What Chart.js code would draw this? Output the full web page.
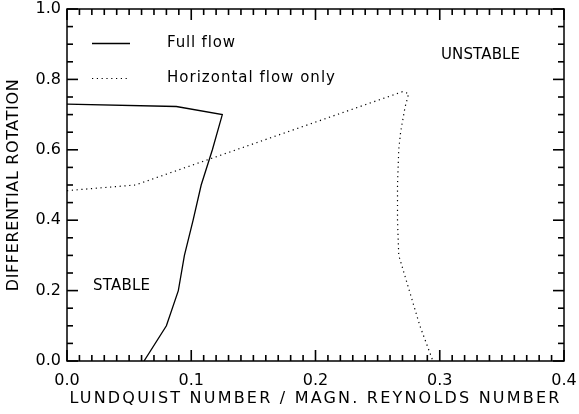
<!DOCTYPE html>
<html>
<head>
<meta charset="utf-8">
<script src="https://cdn.jsdelivr.net/npm/chart.js@4"></script>
<style>
  body { margin: 0; background: #fff; }
  canvas { display: block; }
</style>
</head>
<body>
<canvas id="myChart" width="579" height="414"></canvas>
<script>
// Dados
const fullFlowX = [0.0, 0.088, 0.125, 0.117, 0.108, 0.1015, 0.0945, 0.0896, 0.080, 0.062];
const fullFlowY = [0.73, 0.723, 0.70, 0.60, 0.50, 0.40, 0.30, 0.20, 0.10, 0.0];

const horizX = [0.0, 0.055, 0.270, 0.275, 0.272, 0.2685, 0.267, 0.266, 0.266, 0.267, 0.2755, 0.284, 0.2945];
const horizY = [0.484, 0.50, 0.765, 0.76, 0.72, 0.65, 0.60, 0.50, 0.40, 0.30, 0.20, 0.10, 0.0];

const xTicks = [0.0, 0.1, 0.2, 0.3, 0.4];
const yTicks = [0.0, 0.2, 0.4, 0.6, 0.8, 1.0];
const xMinorStep = 0.01;
const yMinorStep = 0.05;

const seriesNames = ['Full flow', 'Horizontal flow only'];
const xTitle = 'LUNDQUIST NUMBER / MAGN. REYNOLDS NUMBER';
const yTitle = 'DIFFERENTIAL ROTATION';

const FONT = '"DejaVu Sans", sans-serif';

const toPoints = (xs, ys) => xs.map((x, i) => ({ x: x, y: ys[i] }));

// texto com espaçamento para chegar na largura desejada
function spacedText(ctx, text, x, y, targetWidth) {
    ctx.letterSpacing = '0px';
    const w = ctx.measureText(text).width;
    const sp = Math.max(0, (targetWidth - w) / (text.length - 1));
    ctx.letterSpacing = sp.toFixed(2) + 'px';
    ctx.fillText(text, x, y);
    ctx.letterSpacing = '0px';
}

const idlFrame = {
    id: 'idlFrame',
    afterDraw(chart) {
        const ctx = chart.ctx;
        const a = chart.chartArea;
        const xs = chart.scales.x, ys = chart.scales.y;
        ctx.save();
        ctx.setLineDash([]);
        ctx.strokeStyle = '#000';
        ctx.fillStyle = '#000';
        ctx.lineWidth = 1.5;
        ctx.strokeRect(a.left, a.top, a.right - a.left, a.bottom - a.top);

        // marcas dos eixos (para dentro)
        const nx = Math.round((xs.max - xs.min) / xMinorStep);
        for (let i = 0; i <= nx; i++) {
            const px = xs.getPixelForValue(xs.min + i * xMinorStep);
            const len = (i % 10 === 0) ? 11 : 6;
            ctx.fillRect(px - 0.8, a.bottom - len, 1.6, len);
            ctx.fillRect(px - 0.8, a.top, 1.6, len);
        }
        const ny = Math.round((ys.max - ys.min) / yMinorStep);
        for (let i = 0; i <= ny; i++) {
            const py = ys.getPixelForValue(ys.min + i * yMinorStep);
            const len = (i % 4 === 0) ? 11 : 6;
            ctx.fillRect(a.left, py - 0.8, len, 1.6);
            ctx.fillRect(a.right - len, py - 0.8, len, 1.6);
        }

        // legenda
        ctx.lineWidth = 1.3;
        ctx.beginPath();
        ctx.moveTo(92, 43.5); ctx.lineTo(130, 43.5);
        ctx.stroke();
        ctx.lineWidth = 1.2;
        ctx.setLineDash([1.2, 3.6]);
        ctx.beginPath();
        ctx.moveTo(92, 78.5); ctx.lineTo(130, 78.5);
        ctx.stroke();
        ctx.setLineDash([]);

        ctx.textBaseline = 'middle';
        ctx.textAlign = 'left';
        ctx.font = '15px ' + FONT;
        spacedText(ctx, seriesNames[0], 167, 43, 68);
        spacedText(ctx, seriesNames[1], 167, 78, 168);
        spacedText(ctx, 'UNSTABLE', 441, 55, 79);
        spacedText(ctx, 'STABLE', 93, 286, 57);

        // títulos dos eixos
        ctx.textAlign = 'center';
        ctx.font = '16px ' + FONT;
        spacedText(ctx, xTitle, (a.left + a.right) / 2, 399, 490);
        ctx.translate(14, (a.top + a.bottom) / 2);
        ctx.rotate(-Math.PI / 2);
        spacedText(ctx, yTitle, 0, 0, 212);
        ctx.restore();
    }
};

const ctx = document.getElementById('myChart').getContext('2d');
const myChart = new Chart(ctx, {
    type: 'scatter',
    data: {
        datasets: [{
            label: seriesNames[0],
            data: toPoints(fullFlowX, fullFlowY),
            showLine: true,
            borderColor: '#000',
            borderWidth: 1.3,
            pointRadius: 0,
            fill: false,
            tension: 0
        }, {
            label: seriesNames[1],
            data: toPoints(horizX, horizY),
            showLine: true,
            borderColor: '#000',
            borderWidth: 1.2,
            borderDash: [1.2, 3.6],
            pointRadius: 0,
            fill: false,
            tension: 0
        }]
    },
    options: {
        responsive: false,
        animation: false,
        layout: { padding: { top: 9, right: 15, left: 0, bottom: 0 } },
        plugins: {
            legend: { display: false },
            tooltip: { enabled: false }
        },
        scales: {
            x: {
                type: 'linear',
                min: 0,
                max: 0.4,
                afterBuildTicks: (s) => { s.ticks = xTicks.map(v => ({ value: v })); },
                afterFit: (s) => {
                    s.height = 53;
                    s.paddingLeft = 0; s.paddingRight = 0;
                },
                grid: { display: false, drawTicks: false },
                border: { display: false },
                ticks: {
                    font: { family: FONT, size: 16 },
                    color: '#000',
                    padding: 10,
                    maxRotation: 0,
                    callback: (v) => v.toFixed(1)
                }
            },
            y: {
                type: 'linear',
                min: 0,
                max: 1,
                afterBuildTicks: (s) => { s.ticks = yTicks.map(v => ({ value: v })); },
                afterFit: (s) => {
                    s.width = 67;
                    s.paddingTop = 0; s.paddingBottom = 0;
                },
                grid: { display: false, drawTicks: false },
                border: { display: false },
                ticks: {
                    font: { family: FONT, size: 16 },
                    color: '#000',
                    padding: 6,
                    callback: (v) => v.toFixed(1)
                }
            }
        }
    },
    plugins: [idlFrame]
});
</script>
</body>
</html>
